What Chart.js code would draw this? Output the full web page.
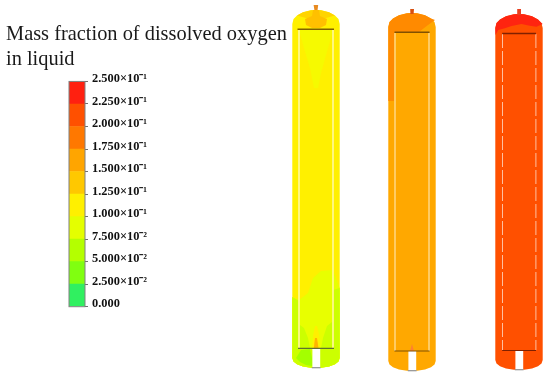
<!DOCTYPE html>
<html>
<head>
<meta charset="utf-8">
<style>
    body { margin: 0; background: #FFFFFF; width: 550px; height: 377px; overflow: hidden; position: relative; }
    #title { position: absolute; left: 6px; top: 21px; font: 20.4px/25px 'Liberation Serif', serif; color: #1A1A1A; white-space: nowrap; filter: blur(0.25px); }
    canvas { position: absolute; }
    .tank canvas { filter: blur(0.5px); }
    #barWrap canvas { filter: blur(0.25px); }
</style>
<script src="https://cdn.jsdelivr.net/npm/chart.js@4"></script>
</head>
<body>
<div id="title">Mass fraction of dissolved oxygen<br>in liquid</div>
<div id="barWrap" style="position:absolute;left:0;top:70px;width:200px;height:250px"><canvas id="legendBar"></canvas></div>
<div class="tank" style="position:absolute;left:286px;top:0;width:60px;height:377px"><canvas id="tank1"></canvas></div>
<div class="tank" style="position:absolute;left:382px;top:0;width:60px;height:377px"><canvas id="tank2"></canvas></div>
<div class="tank" style="position:absolute;left:489px;top:0;width:60px;height:377px"><canvas id="tank3"></canvas></div>
<script>
// Colour bar
const levelTicks = [0, 0.025, 0.05, 0.075, 0.1, 0.125, 0.15, 0.175, 0.2, 0.225, 0.25];
const tickLabels = ['0.000', '2.500×10⁻²', '5.000×10⁻²', '7.500×10⁻²', '1.000×10⁻¹', '1.250×10⁻¹',
    '1.500×10⁻¹', '1.750×10⁻¹', '2.000×10⁻¹', '2.250×10⁻¹', '2.500×10⁻¹'];
const bandSizes = [0.025, 0.025, 0.025, 0.025, 0.025, 0.025, 0.025, 0.025, 0.025, 0.025];
const bandColors = ['#30F060', '#80FF10', '#B4FF00', '#E4FF00', '#FFF000', '#FFC800', '#FFA500', '#FF7800', '#FF5000', '#FF2010'];

// Tank shell and contour regions: [radial position, height above tank bottom]
const shell = [[0, 0], [-5, 0.2], [-13, 1.5], [-19, 3.8], [-22.5, 6.5], [-23.7, 10], [-23.7, 344], [-22.5, 349],
    [-19, 352.5], [-13, 355.8], [-5, 357.7], [0, 358], [5, 357.7], [13, 355.8], [19, 352.5], [22.5, 349],
    [23.7, 344], [23.7, 10], [22.5, 6.5], [19, 3.8], [13, 1.5], [5, 0.2]];
const outletPipe = [[-3.6, 0], [4.2, 0], [4.2, 20], [-3.6, 20]];
const outletRim = [[-4.2, 0.3], [4.6, 0.3]];

// Tank 1
const t1Nozzle = [[-2.4, 363], [2.2, 363], [1.6, 358], [-1.6, 358]];
const t1Band = [[-19, 352.5], [-13, 355.8], [-5, 357.7], [0, 358], [5, 357.7], [13, 355.8], [19, 352.5], [10, 350], [-10, 350]];
const t1Blob = [[-3, 358], [3, 358], [4, 352], [11, 349], [10, 343], [4, 340], [-4, 340], [-10, 343], [-11, 349], [-4, 352]];
const t1Cone = [[-17, 338], [17, 338], [12, 320], [5, 295], [2, 280], [-2, 280], [-6, 300], [-12, 320]];
const t1LowerPale = [[-23.7, 71], [-17, 68], [-8, 75], [-3, 90], [5, 97], [17, 98], [23.7, 80], [23.7, 10], [22.5, 6.5], [19, 3.8],
    [13, 1.5], [5, 0.2], [0, 0], [-5, 0.2], [-13, 1.5], [-19, 3.8], [-22.5, 6.5], [-23.7, 10]];
const t1SideLeft = [[-23.7, 71], [-17, 67], [-16, 43], [-12, 40], [-8, 30], [-6, 20], [-3, 18], [-3, 0], [-5, 0.2], [-13, 1.5], [-19, 3.8], [-22.5, 6.5], [-23.7, 10]];
const t1SideRight = [[23.7, 80], [17, 78], [16, 46], [11, 42], [7, 30], [5, 20], [3, 18], [3, 0], [5, 0.2], [13, 1.5], [19, 3.8], [22.5, 6.5], [23.7, 10]];
const t1GreenPatch = [[-15, 18], [-6, 19], [-4, 10], [-4, 2], [-10, 3], [-16, 6], [-20, 10]];
const t1Plume = [[-3.8, 20], [-3, 32], [-1, 42], [1, 42], [3.5, 32], [4, 20]];
const t1Core = [[-2.2, 20], [-1, 30], [1, 30], [2.5, 20]];
const t1Top = [[-18.5, 338.7], [18, 338.7]];
const t1Bottom = [[-18, 19.7], [18, 19.7]];
const t1WallLeft = [[-17, 338], [-17, 20]];
const t1WallRight = [[17, 338], [17, 20]];

// Tank 2
const t2Nozzle = [[-1.8, 362], [2, 362], [1.6, 357], [-1.6, 357]];
const t2Dark = [[-23.7, 270], [-18, 270], [-17, 338.7], [7, 339], [16, 346], [23, 351], [19, 352.5], [13, 355.8], [5, 357.7], [0, 358],
    [-5, 357.7], [-13, 355.8], [-19, 352.5], [-22.5, 349], [-23.7, 344]];
const t2Plume = [[-2, 20], [0, 27], [2, 20]];
const t2Top = [[-17.5, 338.7], [17.5, 338.7]];
const t2Bottom = [[-17.5, 20], [17.5, 20]];
const t2WallLeft = [[-17, 338], [-17, 20]];
const t2WallRight = [[17, 338], [17, 20]];

// Tank 3
const t3Shell = [[0, 0], [-5, 0.2], [-13, 1.5], [-19, 3.8], [-22.5, 6.5], [-23.7, 10], [-23.7, 342], [-22.5, 347],
    [-19, 350.5], [-13, 353.8], [-5, 355.7], [0, 356], [5, 355.7], [13, 353.8], [19, 350.5], [22.5, 347],
    [23.7, 342], [23.7, 10], [22.5, 6.5], [19, 3.8], [13, 1.5], [5, 0.2]];
const t3Nozzle = [[-1.8, 361], [2, 361], [2, 355], [-1.8, 355]];
const t3Dome = [[-23.5, 335], [-20.8, 340], [-14.1, 341.7], [-7.5, 344], [2.5, 346], [10.8, 344.3], [17.5, 343.3], [23.7, 346],
    [22.5, 347], [19, 350.5], [13, 353.8], [5, 355.7], [0, 356], [-5, 355.7], [-13, 353.8], [-19, 350.5], [-22.5, 347], [-23.7, 342]];
const t3Top = [[-16.8, 336.5], [17, 336.5]];
const t3Bottom = [[-16.8, 19.5], [17, 19.5]];
const t3WallLeft = [[-16.5, 336], [-16.5, 20]];
const t3WallRight = [[16.9, 336], [16.9, 20]];

const toPoints = pts => pts.map(p => ({ x: p[0], y: p[1] }));

function region(points, color) {
    return { data: toPoints(points), backgroundColor: color, borderWidth: 0, fill: 'shape', showLine: true, pointRadius: 0 };
}

function line(points, color, width, dash) {
    return { data: toPoints(points), borderColor: color, borderWidth: width, borderDash: dash || [], fill: false, showLine: true, pointRadius: 0 };
}

// Bottom of the tank sits at a different pixel height in each panel
function tankChart(id, bottomOffset, layers) {
    // first layer is painted first
    layers.forEach((d, i) => { d.order = layers.length - i; });
    return new Chart(document.getElementById(id), {
        type: 'scatter',
        data: { datasets: layers },
        options: {
            responsive: true,
            maintainAspectRatio: false,
            animation: false,
            layout: { padding: 0 },
            plugins: { legend: { display: false }, tooltip: { enabled: false } },
            scales: {
                x: { display: false, min: -30, max: 30 },
                y: { display: false, min: -(377 - bottomOffset), max: bottomOffset }
            }
        }
    });
}

new Chart(document.getElementById('legendBar'), {
    type: 'bar',
    data: {
        labels: [''],
        datasets: bandSizes.map((v, i) => ({ data: [v], backgroundColor: bandColors[i], barPercentage: 1, categoryPercentage: 1, borderWidth: 0 }))
    },
    options: {
        responsive: true,
        maintainAspectRatio: false,
        animation: false,
        layout: { padding: { left: 69, top: 10, bottom: 13.3, right: 0 } },
        plugins: { legend: { display: false }, tooltip: { enabled: false } },
        scales: {
            x: { display: false, stacked: true },
            y: {
                stacked: true,
                position: 'right',
                min: 0,
                max: 0.25,
                afterFit: scale => { scale.width = 115; },
                afterBuildTicks: scale => { scale.ticks = levelTicks.map(v => ({ value: v })); },
                border: { display: false },
                grid: { drawOnChartArea: false, color: '#707070', tickLength: 3 },
                ticks: {
                    autoSkip: false,
                    padding: 4,
                    labelOffset: -2.5,
                    color: '#111111',
                    font: { family: "'Liberation Serif', serif", size: 12.4, weight: 'bold' },
                    callback: (value, index) => tickLabels[index]
                }
            }
        }
    },
    plugins: [{
        id: 'barFrame',
        afterDatasetsDraw(chart) {
            const { ctx, chartArea: a } = chart;
            ctx.save();
            ctx.strokeStyle = '#808080';
            ctx.strokeRect(a.left, a.top, a.right - a.left, a.bottom - a.top);
            ctx.restore();
        }
    }]
});

tankChart('tank1', 368, [
    region(shell, '#FFF000'),
    region(t1Band, '#FFD400'),
    region(t1Blob, '#FFC000'),
    region(t1Cone, '#F6FA00'),
    region(t1LowerPale, '#E8FF00'),
    region(t1SideLeft, '#CCFF00'),
    region(t1SideRight, '#CCFF00'),
    region(t1GreenPatch, '#A4FF00'),
    region(t1Plume, '#FFF000'),
    region(t1Core, '#FFB400'),
    region(t1Nozzle, '#E88A20'),
    region(outletPipe, '#FFFFFF'),
    line(outletRim, '#909090', 1.2),
    line(t1WallLeft, '#FFF890', 1),
    line(t1WallRight, '#FFF890', 1),
    line(t1Top, '#806000', 1.5),
    line(t1Bottom, '#607030', 1.2)
]);

tankChart('tank2', 371, [
    region(shell, '#FFA800'),
    region(t2Dark, '#FF8A00'),
    region(t2Plume, '#FF8030'),
    region(t2Nozzle, '#D85010'),
    region(outletPipe, '#FFFFFF'),
    line(outletRim, '#909090', 1.2),
    line(t2WallLeft, '#FFD070', 1),
    line(t2WallRight, '#FFD070', 1),
    line(t2Top, '#805000', 1.5),
    line(t2Bottom, '#805000', 1.2)
]);

tankChart('tank3', 370, [
    region(t3Shell, '#FF5000'),
    region(t3Dome, '#FF2410'),
    region(t3Nozzle, '#E84020'),
    region(outletPipe, '#FFFFFF'),
    line(outletRim, '#909090', 1.2),
    line(t3WallLeft, '#FFC0A0', 1, [14, 3]),
    line(t3WallRight, '#FFC0A0', 1, [14, 3]),
    line(t3Top, '#802000', 1.5),
    line(t3Bottom, '#802000', 1.2)
]);
</script>
</body>
</html>
